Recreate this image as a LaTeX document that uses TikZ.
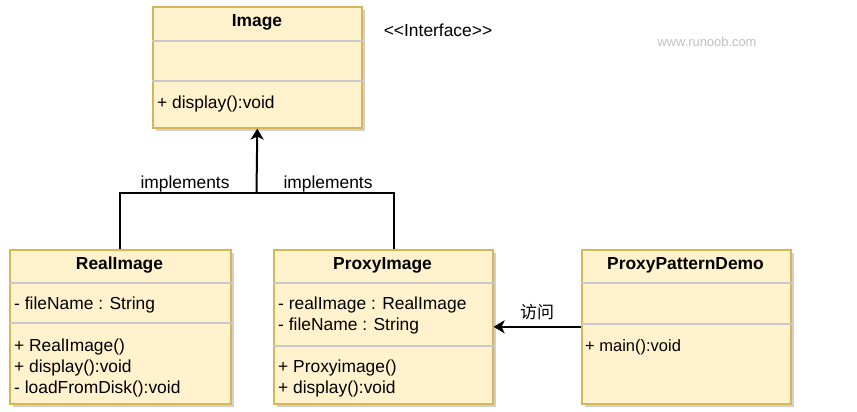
\documentclass[tikz,border=0pt]{standalone}
\usepackage{fontspec}
\setmainfont{Liberation Sans}
\newfontfamily\cjk{Noto Sans CJK SC}
\usetikzlibrary{arrows.meta,shadows}
\definecolor{boxfill}{HTML}{FFF2CC}
\definecolor{boxborder}{HTML}{D6B656}
\definecolor{sepline}{HTML}{C8C8C8}
\definecolor{wmark}{HTML}{C0C0C0}
\begin{document}
\begin{tikzpicture}[x=1pt,y=-1pt,
  font=\fontsize{17.4pt}{21pt}\selectfont,
  classbox/.style={draw=boxborder, fill=boxfill, line width=1.6pt, inner sep=0pt,
    anchor=north west, drop shadow={shadow xshift=3pt, shadow yshift=-3pt, fill=black!30, opacity=0.6}},
  sep/.style={draw=sepline, line width=1.2pt},
  member/.style={anchor=west, inner sep=0pt},
  ctitle/.style={inner sep=0pt, font=\fontsize{17.4pt}{21pt}\selectfont\bfseries},
  conn/.style={line width=2pt, draw=black},
  arrowconn/.style={conn, -{Stealth[length=11pt,width=13pt,inset=3pt]}},
  lbl/.style={inner sep=0pt}
]
\useasboundingbox (0,0) rectangle (857,412);
\fill[white] (0,0) rectangle (857,412);

% Image
\node[classbox, minimum width=209pt, minimum height=121pt] (image) at (152,6) {};
\draw[sep] (image.west |- 0,41) -- (image.east |- 0,41);
\draw[sep] (image.west |- 0,81) -- (image.east |- 0,81);
\node[ctitle] (imaget) at (257,22.5) {Image};
\node[member] (imagem1) at (157,104.5) {+ display():void};
\node[lbl] (iface) at (438,30.5) {<{}<Interface>{}>};

% RealImage
\node[classbox, minimum width=221pt, minimum height=154pt] (real) at (9,249) {};
\draw[sep] (real.west |- 0,283) -- (real.east |- 0,283);
\draw[sep] (real.west |- 0,323) -- (real.east |- 0,323);
\node[ctitle] (realt) at (119.5,265.5) {RealImage};
\node[member] (reala1) at (14,304.5) {- fileName : String};
\node[member] (realm1) at (14,346.5) {+ RealImage()};
\node[member] (realm2) at (14,367.5) {+ display():void};
\node[member] (realm3) at (14,388.5) {- loadFromDisk():void};

% ProxyImage
\node[classbox, minimum width=219pt, minimum height=154pt] (proxy) at (273,249) {};
\draw[sep] (proxy.west |- 0,283) -- (proxy.east |- 0,283);
\draw[sep] (proxy.west |- 0,346) -- (proxy.east |- 0,346);
\node[ctitle] (proxyt) at (382.5,265.5) {ProxyImage};
\node[member] (proxya1) at (278,304.5) {- realImage : RealImage};
\node[member] (proxya2) at (278,325.5) {- fileName : String};
\node[member] (proxym1) at (278,367.5) {+ Proxyimage()};
\node[member] (proxym2) at (278,388.5) {+ display():void};

% ProxyPatternDemo
\node[classbox, minimum width=209pt, minimum height=154pt] (demo) at (581,249) {};
\draw[sep] (demo.west |- 0,283) -- (demo.east |- 0,283);
\draw[sep] (demo.west |- 0,324) -- (demo.east |- 0,324);
\node[ctitle] (demot) at (685.5,265.5) {ProxyPatternDemo};
\node[member, font=\fontsize{16.5pt}{20pt}\selectfont] (demom1) at (585,347.5) {+ main():void};

% connectors
\coordinate (j) at (256.5,193);
\coordinate (pj) at (394,249);
\draw[conn] (real.north) |- (j);
\draw[conn] (pj) |- (j);
\draw[arrowconn] (j) -- (image.south);
\node[lbl] (impl1) at (185,184.5) {implements};
\node[lbl] (impl2) at (328,184.5) {implements};

\draw[arrowconn] (demo.west) -- (proxy.east);
\node[lbl, font=\fontsize{17pt}{20pt}\cjk] (visit) at (537,312) {访问};

% watermark
\node[lbl, text=wmark, font=\fontsize{12.9pt}{15pt}\selectfont] (wm) at (707,42) {www.runoob.com};
\end{tikzpicture}
\end{document}
